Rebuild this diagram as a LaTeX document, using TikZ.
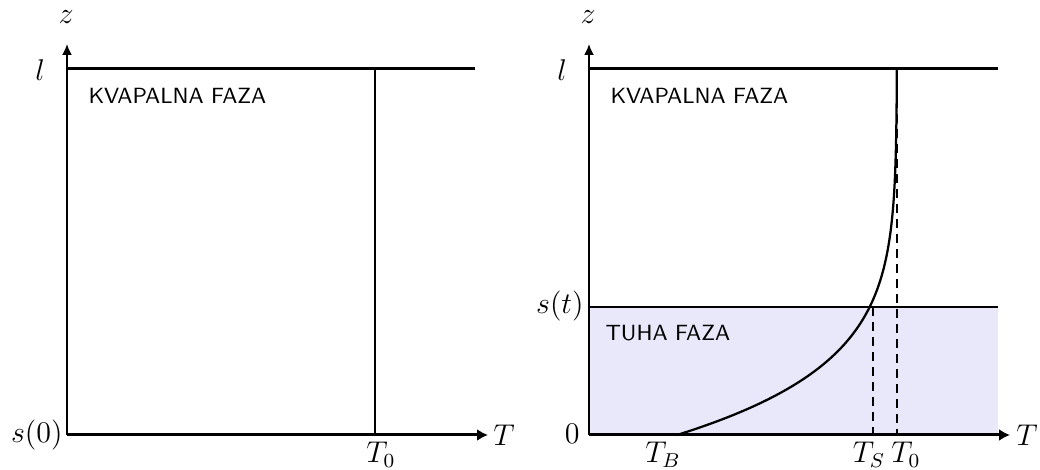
\documentclass[tikz,border=0pt]{standalone}
\usetikzlibrary{arrows.meta}
\definecolor{solidfill}{RGB}{232,232,250}
\begin{document}
\begin{tikzpicture}[x=0.4pt,y=-0.4pt,
  zaxis/.style={line width=0.7pt,-{Latex[length=4.4pt,width=4pt]}},
  taxis/.style={line width=1.2pt,-{Latex[length=4.4pt,width=4.8pt]}},
  boundary/.style={line width=1.2pt},
  vline/.style={line width=0.75pt},
  thinline/.style={line width=0.5pt},
  dashline/.style={line width=0.85pt,dash pattern=on 3.6pt off 2.4pt},
  phase/.style={font=\fontsize{8.8}{10}\selectfont\sffamily,anchor=west,inner sep=0},
  lbl/.style={inner sep=0,font=\fontsize{12}{14}\selectfont}]
\useasboundingbox (0,0) rectangle (1040,470);

% ---------- left panel ----------
\coordinate (O1) at (67,435);
\coordinate (Z1) at (67,44);
\coordinate (L1) at (67,69);
\coordinate (LE1) at (475,69);
\coordinate (TE1) at (488,435);
\coordinate (A1) at (375,69);
\coordinate (B1) at (375,435);

\draw[vline] (A1) -- (B1);
\draw[boundary] (L1) -- (LE1);
\draw[zaxis] (O1) -- (Z1);
\draw[taxis] (O1) -- (TE1);

\node[lbl] (z1) at (66,17) {$z$};
\node[lbl] (l1) at (40,70) {$l$};
\node[lbl,anchor=east] (s0) at (63,435) {$s(0)$};
\node[lbl] (T1) at (504,435) {$T$};
\node[lbl,anchor=north] (T01) at (381,442) {$T_0$};
\node[phase] (liq1) at (88,96) {KVAPALNA FAZA};

% ---------- right panel ----------
\coordinate (O2) at (589,435);
\coordinate (Z2) at (589,44);
\coordinate (L2) at (589,69);
\coordinate (LE2) at (998,69);
\coordinate (TE2) at (1010,435);
\coordinate (S2) at (589,307);
\coordinate (SE2) at (998,307);
\coordinate (BE2) at (998,435);
\coordinate (TS) at (873,307);
\coordinate (TSb) at (873,435);
\coordinate (T0t) at (897,69);
\coordinate (T0b) at (897,435);

\fill[solidfill] (S2) rectangle (BE2);
\draw[thinline] (S2) -- (SE2);
\draw[dashline] (TS) -- (TSb);
\draw[dashline] (T0t) -- (T0b);
\draw[line width=0.9pt] plot[domain=0:366,samples=150,smooth]
  ({897-220*exp(-0.0145*\x-0.14*(\x/100)^2)},{435-\x});
\draw[boundary] (L2) -- (LE2);
\draw[zaxis] (O2) -- (Z2);
\draw[taxis] (O2) -- (TE2);

\node[lbl] (z2) at (588,17) {$z$};
\node[lbl] (l2) at (562,70) {$l$};
\node[lbl,anchor=east] (st) at (584,306) {$s(t)$};
\node[lbl,anchor=east] (zero) at (580,434) {$0$};
\node[lbl] (T2) at (1027,435) {$T$};
\node[lbl,anchor=north] (TB) at (663,442) {$T_B$};
\node[lbl,anchor=north] (TSl) at (869,442) {$T_S$};
\node[lbl,anchor=north] (T02) at (906,442) {$T_0$};
\node[phase] (liq2) at (610,96) {KVAPALNA FAZA};
\node[phase] (sol2) at (605,333) {TUHA FAZA};
\end{tikzpicture}
\end{document}
